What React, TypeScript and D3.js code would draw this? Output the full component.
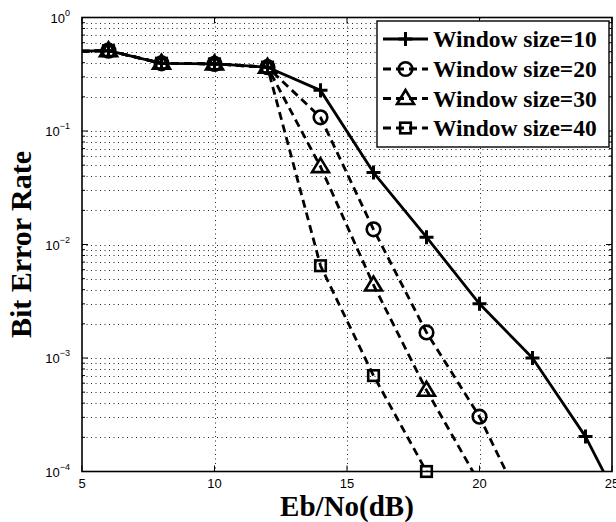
import React from "react";
import * as d3 from "d3";

const xs10 = [4, 6, 8, 10, 12, 14, 16, 18, 20, 22, 24, 26];
const win10 = [0.5, 0.51, 0.395, 0.39, 0.365, 0.228, 0.043, 0.0116, 0.003, 0.001, 0.000203, 0.000025];
const xs20 = [4, 6, 8, 10, 12, 14, 16, 18, 20, 22];
const win20 = [0.5, 0.51, 0.395, 0.39, 0.365, 0.132, 0.0136, 0.00168, 0.000304, 0.000033];
const xs30 = [4, 6, 8, 10, 12, 14, 16, 18, 20];
const win30 = [0.5, 0.51, 0.395, 0.39, 0.365, 0.0485, 0.0044, 0.00052, 0.000079];
const xs40 = [4, 6, 8, 10, 12, 14, 16, 18, 20];
const win40 = [0.5, 0.51, 0.395, 0.39, 0.365, 0.0065, 0.0007, 0.0001, 0.00001];

const seriesNames = ["Window size=10", "Window size=20", "Window size=30", "Window size=40"];
const xTicks = [5, 10, 15, 20, 25];
const yExponents = [0, -1, -2, -3, -4];
const xLabel = "Eb/No(dB)";
const yLabel = "Bit Error Rate";

const L = 82, R = 612, T = 17.5, B = 471.5;
const SERIF = "'Liberation Serif', 'Times New Roman', serif";
const SANS = "'Liberation Sans', Arial, Helvetica, sans-serif";

type Marker = "plus" | "circle" | "triangle" | "square";

function MarkerShape({ type, x, y }: { type: Marker; x: number; y: number }) {
  const sw = 2.6;
  if (type === "plus")
    return (
      <path d={`M${x - 7},${y}H${x + 7}M${x},${y - 7}V${y + 7}`} stroke="#000" strokeWidth={3} fill="none" />
    );
  if (type === "circle") return <circle cx={x} cy={y} r={6.8} stroke="#000" strokeWidth={sw} fill="none" />;
  if (type === "triangle")
    return (
      <path d={`M${x},${y - 8.5}L${x - 8.5},${y + 5.5}L${x + 8.5},${y + 5.5}Z`} stroke="#000" strokeWidth={sw} fill="none" strokeLinejoin="miter" />
    );
  return <rect x={x - 5.3} y={y - 5.3} width={10.6} height={10.6} stroke="#000" strokeWidth={sw} fill="none" />;
}

export default function App() {
  const x = d3.scaleLinear().domain([5, 25]).range([L, R]);
  const y = d3.scaleLog().domain([1e-4, 1]).range([B, T]);

  const series = [
    { name: seriesNames[0], xs: xs10, ys: win10, marker: "plus" as Marker, dash: undefined },
    { name: seriesNames[1], xs: xs20, ys: win20, marker: "circle" as Marker, dash: "8,5" },
    { name: seriesNames[2], xs: xs30, ys: win30, marker: "triangle" as Marker, dash: "8,5" },
    { name: seriesNames[3], xs: xs40, ys: win40, marker: "square" as Marker, dash: "8,5" },
  ];

  const line = d3
    .line<[number, number]>()
    .x((d) => x(d[0]))
    .y((d) => y(d[1]));

  const majors = yExponents.map((e) => Math.pow(10, e));
  const minors: number[] = [];
  for (let e = -4; e < 0; e++) for (let m = 2; m <= 9; m++) minors.push(m * Math.pow(10, e));
  const hGrid = [...majors, ...minors].filter((v) => v < 0.999 && v > 1.001e-4);

  const legendRows = [39, 69, 98.5, 128];

  return (
    <svg width={616} height={522} style={{ position: "absolute", left: 0, top: 0, background: "#fff" }}>
      <defs>
        <clipPath id="plotClip">
          <rect x={L} y={T} width={R - L} height={B - T} />
        </clipPath>
      </defs>
      <rect x={0} y={0} width={616} height={522} fill="#fff" />
      {/* grid */}
      <g stroke="#222" strokeWidth={1} strokeDasharray="1,3.5" fill="none">
        {hGrid.map((v, i) => (
          <line key={"h" + i} x1={L} x2={R} y1={Math.round(y(v)) + 0.5} y2={Math.round(y(v)) + 0.5} />
        ))}
        {xTicks.slice(1, -1).map((t) => (
          <line key={"v" + t} x1={Math.round(x(t)) + 0.5} x2={Math.round(x(t)) + 0.5} y1={T} y2={B} />
        ))}
      </g>
      {/* ticks */}
      <g stroke="#000" strokeWidth={1}>
        {majors.map((v, i) => (
          <g key={"ym" + i}>
            <line x1={L} x2={L + 6} y1={y(v)} y2={y(v)} />
            <line x1={R} x2={R - 6} y1={y(v)} y2={y(v)} />
          </g>
        ))}
        {minors.map((v, i) => (
          <g key={"yn" + i}>
            <line x1={L} x2={L + 3} y1={y(v)} y2={y(v)} />
            <line x1={R} x2={R - 3} y1={y(v)} y2={y(v)} />
          </g>
        ))}
        {xTicks.map((t) => (
          <g key={"xt" + t}>
            <line x1={x(t)} x2={x(t)} y1={B} y2={B - 6} />
            <line x1={x(t)} x2={x(t)} y1={T} y2={T + 6} />
          </g>
        ))}
      </g>
      {/* data lines */}
      <g clipPath="url(#plotClip)">
        {series.map((s, i) => (
          <path
            key={"l" + i}
            d={line(s.xs.map((xv, j) => [xv, s.ys[j]] as [number, number])) || ""}
            stroke="#000"
            strokeWidth={2.8}
            fill="none"
            strokeDasharray={s.dash}
            strokeLinejoin="round"
          />
        ))}
      </g>
      {/* markers */}
      <g>
        {series.map((s, i) =>
          s.xs.map((xv, j) =>
            xv >= 5 && xv <= 25 && s.ys[j] >= 0.99999e-4 && s.ys[j] <= 1 ? (
              <MarkerShape key={"m" + i + "-" + j} type={s.marker} x={x(xv)} y={y(s.ys[j])} />
            ) : null
          )
        )}
      </g>
      {/* frame */}
      <rect x={L} y={T} width={R - L} height={B - T} fill="none" stroke="#000" strokeWidth={1.6} />
      {/* tick labels */}
      <g fontFamily={SANS} fill="#000">
        {xTicks.map((t) => (
          <text key={"xl" + t} x={x(t)} y={B + 16} fontSize={13} textAnchor="middle">
            {t}
          </text>
        ))}
        {yExponents.map((e) => (
          <text key={"yl" + e} x={70} y={y(Math.pow(10, e)) + 5} fontSize={13} textAnchor="end">
            10
            <tspan fontSize={9} dy={-7}>
              {e === 0 ? "0" : "\u2212" + Math.abs(e)}
            </tspan>
          </text>
        ))}
      </g>
      {/* axis labels */}
      <text x={(L + R) / 2} y={516} fontFamily={SERIF} fontWeight="bold" fontSize={29} textAnchor="middle">
        {xLabel}
      </text>
      <text
        transform={`translate(31,${(T + B) / 2}) rotate(-90)`}
        fontFamily={SERIF}
        fontWeight="bold"
        fontSize={30}
        textAnchor="middle"
      >
        {yLabel}
      </text>
      {/* legend */}
      <g>
        <rect x={377} y={21} width={232} height={126} fill="#fff" stroke="#000" strokeWidth={1.4} />
        {series.map((s, i) => (
          <g key={"lg" + i}>
            <line x1={383} x2={428} y1={legendRows[i]} y2={legendRows[i]} stroke="#000" strokeWidth={2.8} strokeDasharray={s.dash} />
            <MarkerShape type={s.marker} x={405.5} y={legendRows[i]} />
            <text x={433} y={legendRows[i] + 8} fontFamily={SERIF} fontWeight="bold" fontSize={23.5}>
              {s.name}
            </text>
          </g>
        ))}
      </g>
    </svg>
  );
}
